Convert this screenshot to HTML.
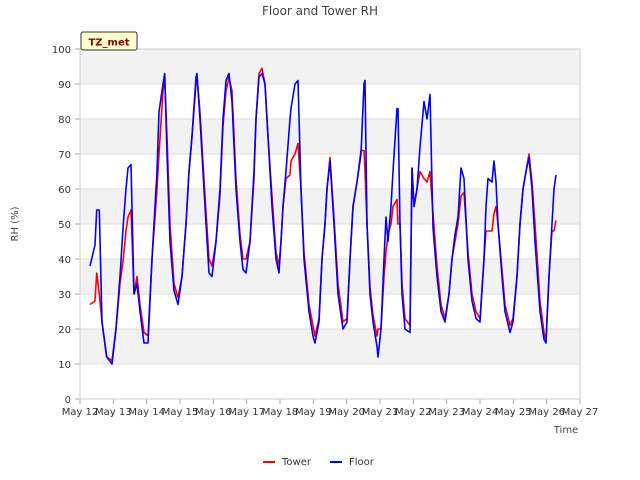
<!DOCTYPE html>
<html><head><meta charset="utf-8"><style>
body{margin:0;background:#fff;}
svg{display:block;font-family:"DejaVu Sans","Liberation Sans",sans-serif;}
</style></head><body>
<svg id="chart" width="640" height="480">
<text x="320" y="15" text-anchor="middle" font-size="12" fill="#444">Floor and Tower RH</text>
<text transform="translate(18,224) rotate(-90)" text-anchor="middle" font-size="10" fill="#444">RH (%)</text>
<text x="566" y="433" text-anchor="middle" font-size="10" fill="#444">Time</text>
<g id="grid"></g><g id="series"></g><g id="axes"></g>
<g>
<rect x="81" y="32" width="56" height="18" fill="#ffffcc" stroke="#333" stroke-width="1" rx="2"/>
<text x="109" y="45.5" text-anchor="middle" font-size="10" font-weight="bold" fill="#8b0000">TZ_met</text>
</g>
<g>
<g><line x1="263" y1="462" x2="275" y2="462" stroke="#f00" stroke-width="2"/><text x="282" y="465" font-size="10" fill="#333">Tower</text></g>
<g><line x1="330" y1="462" x2="342" y2="462" stroke="#00f" stroke-width="2"/><text x="349" y="465" font-size="10" fill="#333">Floor</text></g>
</g>
</svg>
<script>
const times=[0.30,0.45,0.50,0.58,0.66,0.80,0.96,1.08,1.20,1.30,1.38,1.44,1.53,1.62,1.71,1.80,1.92,2.04,2.16,2.31,2.37,2.49,2.54,2.61,2.70,2.82,2.94,3.06,3.18,3.27,3.36,3.48,3.51,3.60,3.75,3.87,3.96,4.08,4.20,4.29,4.38,4.47,4.56,4.68,4.80,4.89,4.98,5.10,5.22,5.28,5.37,5.46,5.55,5.64,5.76,5.88,5.97,6.03,6.09,6.18,6.30,6.33,6.45,6.54,6.63,6.72,6.87,6.99,7.05,7.17,7.26,7.35,7.41,7.50,7.62,7.74,7.89,8.01,8.10,8.19,8.31,8.43,8.52,8.55,8.61,8.70,8.79,8.91,8.94,9.03,9.12,9.18,9.24,9.33,9.39,9.51,9.54,9.60,9.66,9.75,9.90,9.96,10.02,10.11,10.20,10.32,10.41,10.50,10.59,10.71,10.83,10.95,11.07,11.16,11.25,11.34,11.43,11.52,11.64,11.76,11.88,12.00,12.12,12.18,12.24,12.36,12.42,12.48,12.54,12.66,12.75,12.90,12.99,13.11,13.20,13.29,13.38,13.47,13.56,13.65,13.80,13.92,13.98,14.07,14.16,14.22,14.28];
const floorRH=[38,44,54,54,22,12,10,20,35,50,60,66,67,30,33,25,16,16,40,65,82,90,93,70,45,31,27,35,50,65,75,92,93,80,55,36,35,45,60,80,91,93,85,60,45,37,36,45,65,80,92,93,90,75,55,40,36,45,55,65,80,83,90,91,60,40,25,18,16,22,40,50,60,68,50,30,20,22,40,55,62,70,90,91,50,30,22,15,12,20,40,52,45,55,65,83,83,50,30,20,19,66,55,60,72,85,80,87,49,35,25,22,30,40,47,52,66,63,40,28,23,22,40,55,63,62,68,62,50,35,25,19,22,35,50,60,65,69,60,45,25,17,16,35,50,60,64];
const towerRH=[27,28,36,30,22,12,11,20,33,40,48,52,54,30,35,27,19,18,40,60,70,88,92,75,50,33,29,35,50,65,75,90,92,82,58,40,38,45,58,78,88,92,88,63,47,40,40,45,63,80,93,94.5,90,75,58,42,38,45,55,63,64,68,70,73,60,42,27,21,18,23,40,50,60,69,52,33,22,23,40,55,62,71,71,65,50,32,24,18,20,20,35,42,47,50,55,57,50,50,33,23,21,66,55,60,65,63,62,65,53,38,27,23,30,40,45,50,58,59,42,30,25,23,40,48,48,48,53,55,50,37,27,21,23,35,50,60,65,70,62,50,28,19,17,35,48,48,51];
const yTicks=[0,10,20,30,40,50,60,70,80,90,100];
const xLabels=["May 12","May 13","May 14","May 15","May 16","May 17","May 18","May 19","May 20","May 21","May 22","May 23","May 24","May 25","May 26","May 27"];
const X0=80,X1=580,Y0=399,Y1=49;
const xs=t=>X0+t*(X1-X0)/15, ys=v=>Y0-v*(Y0-Y1)/100;
const NS="http://www.w3.org/2000/svg";
function mk(tag,attrs,parent){const e=document.createElementNS(NS,tag);for(const k in attrs)e.setAttribute(k,attrs[k]);parent.appendChild(e);return e;}
const grid=document.getElementById('grid'),axes=document.getElementById('axes'),ser=document.getElementById('series');
for(let i=0;i<yTicks.length-1;i++){
 if(i%2===1){const r=mk('rect',{x:X0,y:ys(yTicks[i+1]),width:X1-X0,height:ys(yTicks[i])-ys(yTicks[i+1]),fill:'#f2f2f2'},grid);
 
 }
}
yTicks.forEach(v=>{
 const l=mk('line',{x1:X0,x2:X1,y1:ys(v),y2:ys(v),stroke:'#ddd','stroke-width':1},grid);
 
 
 const t=mk('text',{x:X0-9,y:ys(v)+4,'text-anchor':'end','font-size':10,fill:'#333'},axes);t.textContent=v;
 
 
 mk('line',{x1:X0-5,x2:X0,y1:ys(v),y2:ys(v),stroke:'#aaa'},axes);
});
xLabels.forEach((s,i)=>{
 const t=mk('text',{x:xs(i),y:415,'text-anchor':'middle','font-size':10,fill:'#333'},axes);t.textContent=s;
 
 
 mk('line',{x1:xs(i),x2:xs(i),y1:Y0,y2:Y0+5,stroke:'#aaa'},axes);
});
const fr=mk('rect',{x:X0,y:Y1,width:X1-X0,height:Y0-Y1,fill:'none',stroke:'#ccc'},axes);


function line(vals,color,name){
 const d=times.map((t,i)=>(i?'L':'M')+xs(t).toFixed(1)+','+ys(vals[i]).toFixed(1)).join('');
 const p=mk('path',{d:d,fill:'none',stroke:color,'stroke-width':1.6,'stroke-linejoin':'round'},ser);
 
 
}
line(towerRH,'#ff0000','tower-line');
line(floorRH,'#0000ff','floor-line');
</script>
</body></html>
